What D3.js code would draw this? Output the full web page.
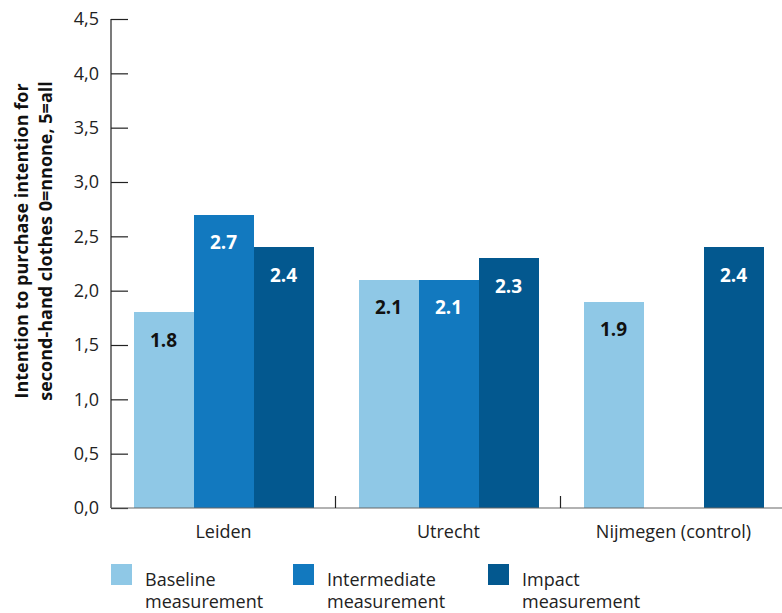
<!DOCTYPE html>
<html><head><meta charset="utf-8">
<script src="https://cdn.jsdelivr.net/npm/d3@7"></script>
<style>body{margin:0;background:#fff}svg{display:block;font-family:"Open Sans","Noto Sans",sans-serif}</style>
</head><body><svg id="c" width="782" height="613"></svg>
<script>
const categories = ["Leiden", "Utrecht", "Nijmegen (control)"];
const seriesNames = ["Baseline measurement", "Intermediate measurement", "Impact measurement"];
const baseline = [1.8, 2.1, 1.9];
const intermediate = [2.7, 2.1, null];
const impact = [2.4, 2.3, 2.4];
const yTicks = [0, 0.5, 1, 1.5, 2, 2.5, 3, 3.5, 4, 4.5];
const yTickLabels = ["0,0","0,5","1,0","1,5","2,0","2,5","3,0","3,5","4,0","4,5"];
const colors = ["#8fc8e6", "#1279bf", "#03588f"];
const labelColors = ["#111", "#fff", "#fff"];

(function () {
const svg = d3.select("#c");
const pLeft = 111, pRight = 786, pTop = 19, pBottom = 508;
const x0 = d3.scaleBand().domain(categories).range([pLeft, pRight]).paddingInner(0).paddingOuter(0);
const x1 = d3.scaleBand().domain(seriesNames).range([0, x0.bandwidth()]).paddingOuter(0.375).paddingInner(0);
const y = d3.scaleLinear().domain([0, 4.5]).range([pBottom, pTop]);
const series = [baseline, intermediate, impact];

categories.forEach((cat, ci) => {
  series.forEach((vals, si) => {
    const v = vals[ci];
    if (v == null) return;
    const bx = x0(cat) + x1(seriesNames[si]);
    svg.append("rect").attr("x", bx).attr("y", y(v)).attr("width", x1.bandwidth()).attr("height", y(0) - y(v))
      .attr("fill", colors[si]).attr("shape-rendering", "crispEdges");
    svg.append("text").attr("x", bx + x1.bandwidth() / 2).attr("y", y(v) + 28).attr("dy", "0.35em")
      .attr("text-anchor", "middle").attr("font-weight", "bold").attr("font-size", 19).attr("fill", labelColors[si]).text(v.toFixed(1));
  });
});

const yAxis = d3.axisRight(y).tickValues(yTicks).tickSize(17).tickFormat("");
const gy = svg.append("g").attr("transform", `translate(${pLeft},0)`).call(yAxis);
gy.select(".domain").remove();
gy.selectAll(".tick line").attr("stroke", "#222").attr("stroke-width", 1.2);
svg.append("line").attr("x1", pLeft).attr("x2", pLeft).attr("y1", pTop).attr("y2", pBottom).attr("stroke", "#222").attr("stroke-width", 1.2);
yTicks.forEach((t, i) => {
  svg.append("text").attr("x", 99).attr("y", y(t)).attr("dy", "0.35em").attr("text-anchor", "end")
    .attr("font-size", 18).attr("fill", "#222").text(yTickLabels[i]);
});

svg.append("line").attr("x1", pLeft).attr("x2", pRight).attr("y1", pBottom).attr("y2", pBottom).attr("stroke", "#666").attr("stroke-width", 1.2);
categories.slice(1).forEach(cat => {
  const sx = Math.round(x0(cat)) - 0.5;
  svg.append("line").attr("x1", sx).attr("x2", sx).attr("y1", pBottom - 12).attr("y2", pBottom).attr("stroke", "#222").attr("stroke-width", 1.2);
});
categories.forEach(cat => {
  svg.append("text").attr("x", x0(cat) + x0.bandwidth() / 2).attr("y", 538).attr("text-anchor", "middle")
    .attr("font-size", 18).attr("fill", "#222").text(cat);
});

const yl = svg.append("text").attr("transform", "translate(0,241) rotate(-90)").attr("text-anchor", "middle")
  .attr("font-size", 18).attr("font-weight", "bold").attr("fill", "#111");
yl.append("tspan").attr("x", 0).attr("y", 28).text("Intention to purchase intention for");
yl.append("tspan").attr("x", 0).attr("y", 52).text("second-hand clothes 0=nnone, 5=all");

const legX = [111, 293, 488];
seriesNames.forEach((name, i) => {
  svg.append("rect").attr("x", legX[i]).attr("y", 564).attr("width", 21).attr("height", 21).attr("fill", colors[i]);
  const words = name.split(" ");
  const t = svg.append("text").attr("font-size", 18).attr("fill", "#222");
  t.append("tspan").attr("x", legX[i] + 34).attr("y", 586).text(words[0]);
  t.append("tspan").attr("x", legX[i] + 34).attr("y", 608).text(words[1]);
});
})();
</script></body></html>
